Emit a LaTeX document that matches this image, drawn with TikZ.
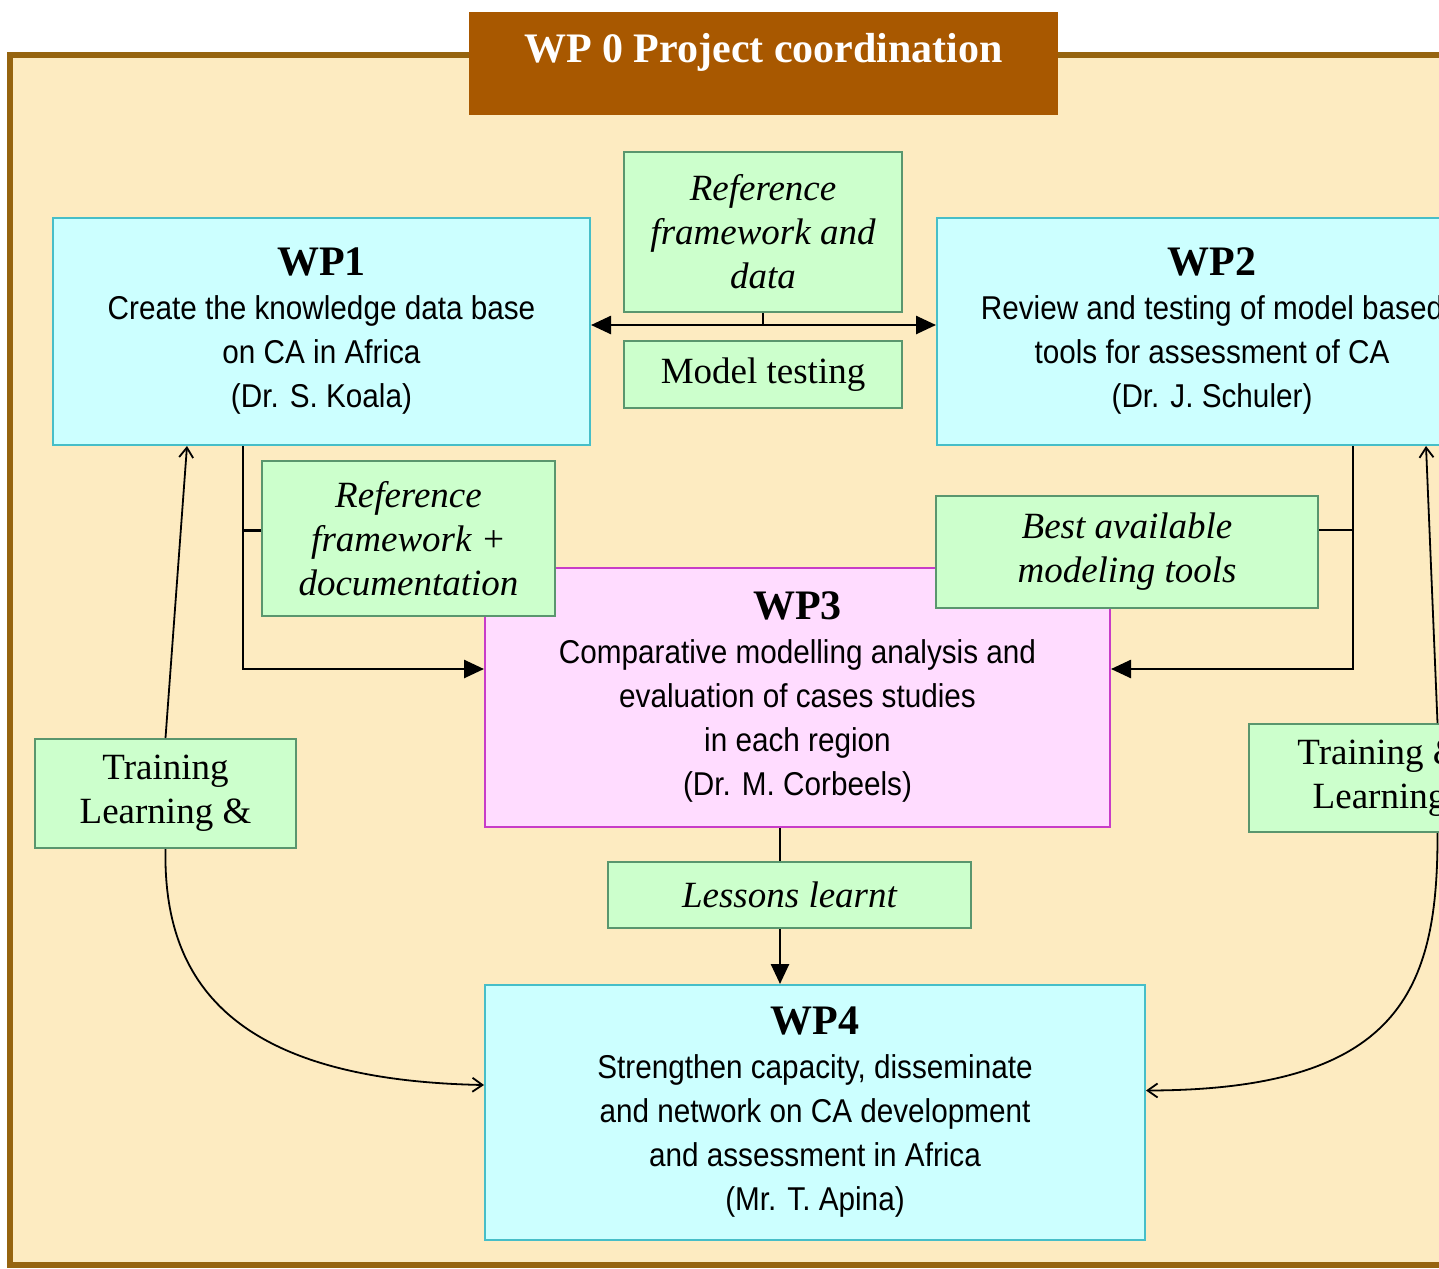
\documentclass[tikz,border=0pt]{standalone}
\usepackage{fontspec}
\setmainfont{Liberation Serif}
\newfontfamily\narrowsans[FakeStretch=0.9]{Liberation Sans}
\usetikzlibrary{arrows.meta}
\definecolor{framebg}{RGB}{253,235,193}
\definecolor{frameline}{RGB}{150,100,15}
\definecolor{hdrfill}{RGB}{168,88,0}
\definecolor{wpfill}{RGB}{204,255,255}
\definecolor{wpline}{RGB}{70,190,200}
\definecolor{wpthreefill}{RGB}{255,220,255}
\definecolor{wpthreeline}{RGB}{200,60,200}
\definecolor{greenfill}{RGB}{204,255,204}
\definecolor{greenline}{RGB}{90,150,110}
\newcommand{\wptitle}[1]{{\rmfamily\bfseries\fontsize{21}{22}\selectfont #1}}

\begin{document}
\begin{tikzpicture}[x=0.5pt,y=-0.5pt,>={Triangle[length=10pt,width=9pt]},
    wpbox/.style={draw=wpline,fill=wpfill,line width=1pt,inner sep=0pt,align=center,
      font=\fontsize{16.5}{22}\selectfont\narrowsans},
    outbox/.style={draw=greenline,fill=greenfill,line width=1pt,inner sep=0pt,align=center,
      font=\fontsize{18.5}{22}\selectfont\itshape},
    plainbox/.style={outbox,font=\fontsize{18.5}{22}\selectfont},
    mainline/.style={line width=1.3pt},
    feedback/.style={line width=0.9pt,-{Straight Barb[length=5pt,width=7pt]}}]
    \useasboundingbox (0,0) rectangle (1439,1268);
    \clip (0,0) rectangle (1439,1268);
    \draw [frameline, line width=3pt, fill=framebg] (10,55) rectangle (1480,1265);
    \node [fill=hdrfill, minimum width=294.5pt, minimum height=51.5pt, inner sep=0pt, text=white,
      text depth=16pt, font=\fontsize{21}{22}\selectfont\bfseries] (hdr) at (763.5,63.5) {WP 0 Project coordination};

    \node [wpbox, minimum width=268.5pt, minimum height=113.5pt] (wp1) at (321.5,331.5)
      {\wptitle{WP1}\\Create the knowledge data base\\on CA in Africa\\(Dr. S. Koala)};
    \node [wpbox, minimum width=275pt, minimum height=113.5pt] (wp2) at (1212,331.5)
      {\wptitle{WP2}\\Review and testing of model based\\tools for assessment of CA\\(Dr. J. Schuler)};
    \node [wpbox, draw=wpthreeline, fill=wpthreefill, minimum width=312.5pt, minimum height=129.5pt] (wp3) at (797.5,697.5)
      {\wptitle{WP3}\\Comparative modelling analysis and\\evaluation of cases studies\\in each region\\(Dr. M. Corbeels)};
    \node [wpbox, minimum width=330pt, minimum height=127.5pt] (wp4) at (815,1112.5)
      {\wptitle{WP4}\\Strengthen capacity, disseminate\\and network  on CA development\\and assessment in Africa\\(Mr. T. Apina)};

    \node [outbox, minimum width=139pt, minimum height=80pt] (rfd) at (763,232) {Reference\\framework and\\data};
    \node [plainbox, minimum width=139pt, minimum height=33.5pt] (mt) at (763,374.5) {Model testing};
    \node [outbox, minimum width=146.5pt, minimum height=77.5pt] (rfdoc) at (408.5,538.5) {Reference\\framework +\\documentation};
    \node [outbox, minimum width=191pt, minimum height=56pt] (bamt) at (1127,552) {Best available\\modeling tools};
    \node [outbox, minimum width=181.5pt, minimum height=33pt] (ll) at (789.5,895) {Lessons learnt};
    \node [plainbox, minimum width=130.5pt, minimum height=54.5pt] (tll) at (165.5,793.5) {Training\\Learning \&};
    \node [plainbox, minimum width=130.5pt, minimum height=54pt] (tlr) at (1379.5,778) {Training \&\\Learning};

    \coordinate (m12) at (763,325);
    \coordinate (j1) at (243,669);
    \coordinate (j2) at (1353,669);
    \coordinate (j3) at (780,900);

    \draw [mainline, <->] (m12 -| wp1.east) -- (m12 -| wp2.west);
    \draw [mainline] (rfd.south) -- (m12);
    \draw [mainline, ->] (j1 |- wp1.south) -- (j1) -- (j1 -| wp3.west);
    \draw [mainline] ([yshift=4pt]rfdoc.west) -- ([yshift=4pt]rfdoc.west -| j1);
    \draw [mainline, ->] (j2 |- wp2.south) -- (j2) -- (j2 -| wp3.east);
    \draw [mainline] ([yshift=11pt]bamt.east) -- ([yshift=11pt]bamt.east -| j2);
    \draw [mainline] (j3 |- wp3.south) -- (j3 |- ll.north);
    \draw [mainline, ->] (j3 |- ll.south) -- (j3 |- wp4.north);

    \draw [feedback] (tll.north) -- ([xshift=67.5pt]wp1.south west);
    \draw [feedback] (tll.south) .. controls (163,980) and (230,1080) .. ([yshift=13.75pt]wp4.west);
    \draw [feedback] ([xshift=29pt]tlr.north) -- ([xshift=-31pt]wp2.south east);
    \draw [feedback] ([xshift=29pt]tlr.south) .. controls (1438,990) and (1400,1090) .. ([yshift=11pt]wp4.east);
\end{tikzpicture}
\end{document}
